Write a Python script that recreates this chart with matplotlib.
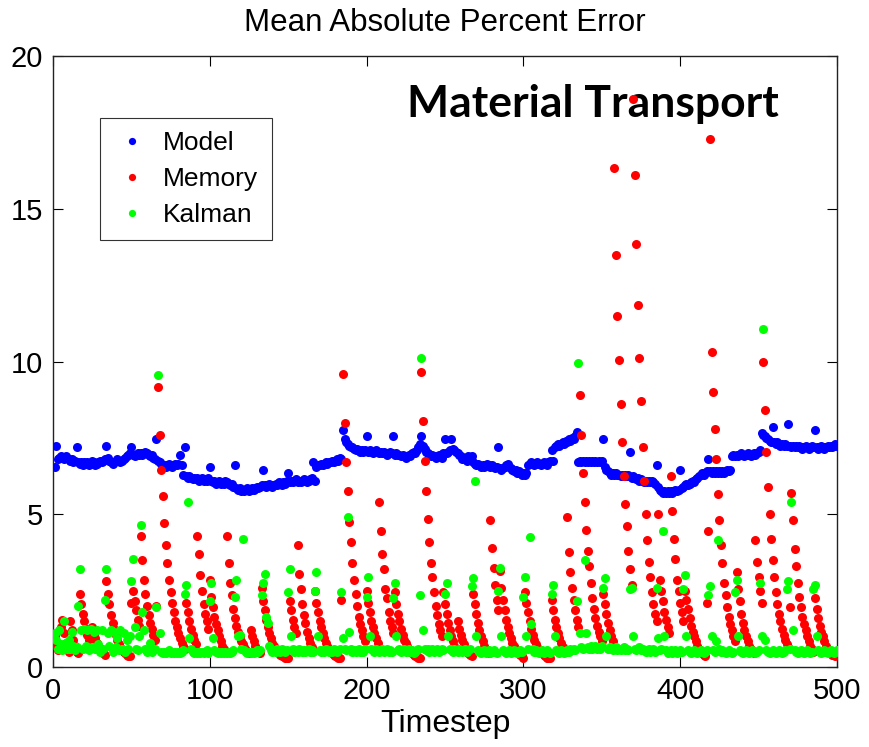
import numpy as np
import matplotlib
matplotlib.use("Agg")
import matplotlib.pyplot as plt

# ---------------- data (timesteps 1..500) ----------------
model = [
    6.55, 7.25, 6.8, 6.85, 6.9, 6.85, 6.8, 6.9, 6.85, 6.8,
    6.75, 6.8, 6.7, 6.75, 7.2, 6.7, 6.65, 6.7, 6.6, 6.7,
    6.65, 6.7, 6.6, 6.65, 6.75, 6.7, 6.6, 6.65, 6.7, 6.75,
    6.7, 6.75, 6.8, 7.25, 6.85, 6.75, 6.7, 6.65, 6.7, 6.75,
    6.8, 6.75, 6.7, 6.75, 6.8, 6.85, 6.9, 6.95, 7.0, 7.2,
    6.95, 6.9, 6.95, 7.0, 6.95, 7.0, 6.95, 7.0, 7.05, 7.0,
    6.95, 6.9, 6.95, 6.85, 6.8, 7.45, 6.75, 6.7, 6.65, 6.6,
    6.6, 6.55, 6.6, 6.65, 6.6, 6.55, 6.6, 6.65, 6.6, 6.65,
    6.95, 6.6, 6.3, 7.2, 6.25, 6.2, 6.25, 6.2, 6.15, 6.2,
    6.15, 6.2, 6.1, 6.15, 6.2, 6.1, 6.15, 6.1, 6.2, 6.55,
    6.1, 6.05, 6.1, 6.0, 6.05, 6.1, 6.0, 6.05, 6.0, 6.1,
    6.05, 6.0, 5.95, 6.0, 5.9, 6.6, 5.85, 5.8, 5.85, 5.75,
    5.8, 5.75, 5.8, 5.85, 5.75, 5.8, 5.85, 5.8, 5.85, 5.9,
    5.85, 5.9, 5.95, 6.45, 5.95, 5.9, 5.95, 6.0, 5.95, 5.9,
    5.95, 6.0, 5.95, 6.05, 6.0, 5.95, 6.05, 6.0, 6.1, 6.35,
    6.05, 6.1, 6.05, 6.1, 6.15, 6.05, 6.1, 6.05, 6.1, 6.15,
    6.1, 6.05, 6.1, 6.15, 6.2, 6.7, 6.1, 6.55, 6.6, 6.6,
    6.65, 6.6, 6.65, 6.7, 6.65, 6.7, 6.7, 6.75, 6.7, 6.75,
    6.8, 6.75, 6.85, 6.8, 7.75, 7.45, 7.35, 7.3, 7.25, 7.2,
    7.2, 7.15, 7.1, 7.15, 7.1, 7.05, 7.1, 7.05, 7.1, 7.55,
    7.05, 7.1, 7.05, 7.0, 7.05, 7.1, 7.05, 7.0, 7.05, 7.0,
    7.05, 7.0, 6.95, 7.0, 7.05, 7.0, 7.55, 6.95, 7.0, 6.95,
    6.95, 6.9, 6.95, 6.9, 6.85, 6.9, 6.95, 6.9, 7.0, 7.05,
    7.0, 7.1, 7.2, 7.3, 7.55, 7.25, 7.15, 7.05, 7.0, 6.95,
    6.9, 6.95, 6.9, 6.85, 6.9, 6.95, 6.9, 6.85, 7.0, 7.45,
    7.0, 7.05, 7.1, 7.45, 7.15, 7.1, 7.05, 7.0, 6.95, 6.9,
    6.8, 6.85, 6.8, 6.75, 6.9, 6.85, 6.9, 6.7, 6.65, 6.6,
    6.65, 6.6, 6.55, 6.6, 6.55, 6.6, 6.65, 6.6, 6.55, 6.6,
    6.55, 6.5, 6.55, 7.2, 6.5, 6.45, 6.5, 6.55, 6.6, 6.65,
    6.55, 6.5, 6.45, 6.4, 6.45, 6.35, 6.4, 6.35, 6.3, 6.35,
    6.3, 6.35, 6.6, 6.65, 6.7, 6.65, 6.6, 6.65, 6.7, 6.65,
    6.6, 6.65, 6.7, 6.65, 6.6, 6.7, 6.75, 7.1, 6.75, 7.2,
    7.25, 7.3, 7.25, 7.3, 7.35, 7.3, 7.4, 7.35, 7.45, 7.4,
    7.5, 7.45, 7.55, 7.7, 6.7, 6.75, 6.7, 6.75, 6.7, 6.75,
    6.7, 6.75, 6.7, 6.75, 6.7, 6.75, 6.7, 6.75, 6.7, 6.75,
    7.45, 6.55, 6.45, 6.4, 6.35, 6.3, 6.35, 6.3, 6.35, 6.3,
    6.3, 6.25, 6.3, 6.25, 6.3, 6.25, 6.3, 7.05, 6.2, 6.25,
    6.2, 6.15, 6.2, 6.1, 6.15, 6.1, 6.05, 6.1, 6.05, 6.1,
    6.05, 6.1, 6.05, 6.0, 6.6, 5.9, 5.8, 5.75, 5.7, 5.75,
    5.7, 5.75, 5.7, 5.75, 5.7, 5.75, 5.8, 5.75, 5.8, 6.45,
    5.85, 5.9, 5.95, 6.0, 5.95, 6.0, 6.05, 6.1, 6.05, 6.15,
    6.2, 6.25, 6.3, 6.35, 6.3, 6.35, 6.4, 6.8, 6.4, 6.35,
    6.4, 6.35, 6.4, 6.35, 6.4, 6.35, 6.4, 6.35, 6.4, 6.45,
    6.4, 6.45, 6.9, 6.95, 6.9, 6.95, 6.9, 6.95, 7.0, 6.95,
    6.9, 6.95, 7.0, 6.95, 6.9, 6.95, 7.0, 6.95, 7.0, 7.05,
    7.1, 7.65, 7.6, 7.55, 7.5, 7.45, 7.4, 7.35, 7.85, 7.35,
    7.3, 7.35, 7.3, 7.25, 7.3, 7.25, 7.3, 7.25, 7.95, 7.25,
    7.2, 7.25, 7.2, 7.25, 7.2, 7.25, 7.2, 7.15, 7.2, 7.25,
    7.2, 7.15, 7.2, 7.25, 7.2, 7.75, 7.2, 7.15, 7.2, 7.25,
    7.2, 7.15, 7.2, 7.25, 7.2, 7.25, 7.2, 7.25, 7.3, 7.25,
]

memory = [
    1.0, 0.7, 0.55, 0.65, 1.3, 1.55, 1.1, 0.8, 0.6, 0.5, 1.5, 1.2, 0.9, 0.7, 0.5, 0.45,
    2.4, 2.05, 1.75, 1.5, 1.25, 1.05, 0.9, 0.75, 1.3, 1.1, 0.95, 0.8, 0.7, 0.6, 0.5, 0.45, 0.4,
    2.8, 2.4, 2.05, 1.7, 1.45, 1.25, 1.05, 0.9, 0.75, 0.65, 0.55, 0.5, 0.45, 0.4, 0.35, 0.35,
    2.1, 2.5, 2.15, 1.85, 1.55, 1.35,
    4.3, 3.5, 2.85, 2.4, 2.0, 1.7, 1.45, 1.25, 1.05, 0.9, 2.0,
    9.15, 7.6, 6.45, 5.6, 4.7, 4.0, 3.4, 2.85, 2.45, 2.1, 1.8, 1.5, 1.3, 1.1, 0.95, 0.8, 0.7, 0.6,
    2.1, 1.8, 1.5, 1.25, 1.05, 0.9, 0.75,
    4.3, 3.7, 3.0, 2.5, 2.05, 1.75, 1.5, 1.25,
    2.85, 2.3, 1.95, 1.65, 1.4, 1.2, 1.0, 0.85, 0.7, 0.6, 0.5,
    4.3, 3.4, 2.75, 2.35, 1.9, 1.6, 1.35, 1.15, 1.0, 0.85, 0.75, 0.65, 0.55, 0.5, 0.45,
    1.2, 1.0, 0.85, 0.7, 0.6, 0.5, 0.45,
    2.6, 2.15, 1.85, 1.55, 1.3, 1.1, 0.95, 0.8, 0.7, 0.6, 0.5, 0.45, 0.4, 0.35, 0.35, 0.3, 0.3, 0.3,
    2.15, 1.85, 1.55, 1.3, 1.1,
    4.0, 3.05, 2.55, 2.05, 1.7, 1.45, 1.15, 0.95, 0.8, 0.65, 0.55,
    2.5, 2.1, 1.8, 1.5, 1.3, 1.1, 0.95, 0.8, 0.7, 0.6, 0.5, 0.45, 0.4, 0.35, 0.35, 0.3, 0.3,
    2.2,
    9.6, 8.0, 6.7, 5.75, 4.75, 4.1, 3.4, 2.85, 2.4, 2.0, 1.65, 1.4, 1.2, 1.0, 0.85,
    2.5, 2.1, 1.8, 1.5, 1.3, 1.1, 0.95, 0.8,
    5.4, 4.45, 3.7, 3.2, 2.55, 2.25, 1.8, 1.5, 1.3, 1.1,
    2.45, 2.05, 1.75, 1.5, 1.25, 1.05, 0.9, 0.8, 0.7, 0.6, 0.5, 0.45, 0.4, 0.35, 0.35, 0.3, 0.3,
    9.65, 8.05, 6.75, 5.75, 4.85, 4.1, 3.4, 2.95, 2.45, 2.0, 1.7, 1.4, 1.2, 1.0,
    2.45, 2.05, 1.75, 1.45, 1.2, 1.0, 0.85, 0.7, 0.6,
    1.5, 1.25, 1.05, 0.9, 0.75, 0.6, 0.5, 0.45, 0.4, 0.35,
    2.4, 2.05, 1.75, 1.45, 1.2, 1.0, 0.85, 0.7, 0.6, 0.5, 0.45,
    4.8, 3.9, 3.25, 2.7, 2.2, 1.85,
    3.15, 2.6, 2.2, 1.85, 1.55, 1.3, 1.1, 0.95, 0.8, 0.7, 0.6, 0.5, 0.45, 0.4, 0.35, 0.3,
    2.45, 2.1, 1.8, 1.5, 1.25, 1.05, 0.9, 0.75, 0.65, 0.55, 0.5, 0.45, 0.4, 0.35, 0.3, 0.3, 0.3,
    2.2, 1.85, 1.55, 1.3, 1.1, 0.95, 0.8, 0.65, 0.55, 0.5,
    4.9, 3.75, 3.1, 2.6, 2.2, 1.85, 1.55, 1.3,
    8.9, 7.6, 6.35, 5.4, 4.5, 3.8, 3.3, 2.75, 2.25, 1.9, 1.6, 1.35, 1.15, 1.0, 0.85,
    2.4, 2.05, 1.75, 1.45, 1.2, 1.0, 0.85,
    16.35, 13.5, 11.5, 10.05, 8.6, 7.35, 6.25, 5.35, 4.6, 3.8, 3.2, 2.7,
    18.6, 16.1, 13.85, 11.85, 10.1, 8.7, 7.2, 6.1, 5.0, 4.15, 3.45, 2.95, 2.45, 2.05, 1.75, 1.5,
    5.0, 2.85, 2.5, 2.15, 1.8, 1.55, 1.3, 1.1,
    6.25, 5.1, 4.2, 3.55, 2.85, 2.5, 2.1, 1.8, 1.5,
    2.5, 2.2, 1.9, 1.6, 1.35, 1.15, 1.0, 0.85, 0.7, 0.6, 0.5, 0.45, 0.4, 0.35,
    2.1, 4.45,
    17.3, 10.3, 9.0, 7.8, 6.8, 5.65, 4.8, 4.0, 3.4, 2.75, 2.35, 1.95, 1.65, 1.4, 1.2, 1.0, 0.85,
    3.1, 2.55, 2.15, 1.75, 1.45, 1.2, 1.0, 0.85, 0.7, 0.6, 0.5, 0.45,
    4.15, 3.45, 2.95, 2.5, 2.1,
    10.0, 8.4, 7.05, 5.9, 5.0, 4.2, 3.5, 2.95, 2.45, 2.05, 1.75, 1.5, 1.25, 1.05, 0.9, 0.75, 0.65, 1.95,
    5.7, 4.8, 3.85, 3.3, 2.75, 2.3, 1.95, 1.65, 1.4, 1.2, 1.0, 0.85, 0.7, 0.6, 0.5,
    2.25, 1.9, 1.6, 1.35, 1.15, 1.0, 0.85, 0.7, 0.6, 0.5, 0.45, 0.4, 0.4, 0.35, 0.5,
]

kalman = [
    1.1, 0.9, 0.6, 1.2, 0.75, 0.55, 1.5, 0.8, 0.6, 0.9,
    0.6, 1.15, 0.7, 0.55, 0.65, 2.0, 3.2, 1.2, 0.6, 1.25,
    0.7, 1.2, 0.55, 1.25, 0.65, 1.15, 0.6, 1.2, 0.75, 0.5,
    1.2, 0.6, 2.2, 3.2, 1.1, 0.7, 1.2, 0.5, 1.15, 0.65,
    0.95, 0.55, 1.2, 0.6, 1.1, 0.5, 0.9, 0.6, 1.0, 2.8,
    3.55, 1.3, 0.6, 0.55, 1.0, 4.65, 1.8, 1.2, 0.6, 0.5,
    0.55, 0.8, 0.5, 0.55, 0.6, 1.95, 9.55, 1.1, 0.5, 0.45,
    0.5, 0.45, 0.5, 0.55, 0.45, 0.5, 0.45, 0.5, 0.45, 0.5,
    0.45, 0.5, 0.55, 2.4, 2.7, 5.4, 0.95, 0.6, 0.5, 0.45,
    0.5, 0.45, 0.5, 0.45, 0.5, 0.45, 0.5, 0.55, 0.45, 2.15,
    2.75, 0.95, 0.55, 0.5, 0.45, 0.5, 0.45, 0.5, 0.45, 0.5,
    0.45, 0.5, 0.45, 0.5, 0.55, 2.3, 2.85, 1.0, 1.05, 0.6,
    4.2, 0.55, 0.5, 0.45, 0.5, 0.45, 0.5, 0.45, 0.5, 0.55,
    0.5, 0.55, 2.35, 2.75, 3.05, 1.65, 1.45, 0.7, 0.55, 0.5,
    0.55, 0.5, 0.6, 0.55, 0.5, 0.6, 0.55, 0.5, 0.55, 2.45,
    3.2, 1.0, 0.6, 0.5, 0.55, 0.5, 0.6, 0.55, 0.5, 0.55,
    0.5, 0.55, 0.6, 0.5, 0.55, 0.5, 2.5, 3.1, 1.0, 0.55,
    0.5, 0.55, 0.5, 0.6, 0.55, 0.5, 0.55, 0.5, 0.6, 0.55,
    0.5, 0.55, 0.6, 2.45, 0.95, 0.6, 0.55, 4.9, 1.15, 0.6,
    0.5, 0.55, 0.5, 0.55, 0.6, 0.5, 0.55, 0.5, 0.6, 2.3,
    2.95, 1.0, 0.6, 0.55, 0.5, 0.6, 0.55, 0.5, 0.55, 0.6,
    0.5, 0.55, 0.6, 0.5, 0.55, 0.5, 2.25, 2.75, 1.0, 0.55,
    0.6, 0.5, 0.55, 0.6, 0.5, 0.55, 0.6, 0.5, 0.55, 0.45,
    0.5, 0.55, 0.6, 2.35, 10.1, 1.2, 0.6, 0.55, 0.6, 0.5,
    0.55, 0.6, 0.5, 0.55, 0.6, 0.5, 0.55, 0.6, 0.55, 2.4,
    2.75, 1.0, 0.6, 0.55, 0.5, 0.6, 0.55, 0.5, 0.6, 0.55,
    0.5, 0.55, 0.6, 0.5, 0.55, 0.6, 2.65, 2.9, 6.1, 1.0,
    0.55, 0.5, 0.45, 0.5, 0.55, 0.45, 0.5, 0.55, 0.45, 0.5,
    0.55, 0.5, 0.45, 2.5, 3.25, 1.0, 0.55, 0.5, 0.45, 0.5,
    0.55, 0.45, 0.5, 0.55, 0.5, 0.45, 0.5, 0.55, 0.5, 2.3,
    2.95, 1.0, 0.6, 4.25, 1.4, 0.6, 0.5, 0.55, 0.5, 0.45,
    0.5, 0.55, 0.45, 0.5, 0.55, 0.5, 0.45, 2.4, 2.7, 1.0,
    0.55, 0.5, 0.45, 0.55, 0.5, 0.45, 0.5, 0.55, 0.5, 0.6,
    0.55, 0.6, 0.55, 2.15, 9.95, 1.1, 0.65, 0.6, 3.5, 1.1,
    0.65, 0.6, 0.7, 0.6, 0.65, 0.7, 0.6, 0.65, 0.6, 0.7,
    2.6, 2.9, 1.0, 0.6, 0.65, 0.6, 0.55, 0.6, 0.65, 0.55,
    0.6, 0.55, 0.6, 0.65, 0.55, 0.6, 0.55, 2.55, 2.6, 1.0,
    0.6, 0.55, 0.6, 0.65, 0.55, 0.6, 0.55, 0.5, 0.55, 0.6,
    0.5, 0.55, 0.6, 0.5, 2.6, 0.95, 0.55, 0.6, 4.45, 1.0,
    0.55, 0.45, 0.5, 0.55, 0.45, 0.5, 0.55, 0.45, 0.5, 0.55,
    0.5, 2.55, 3.0, 1.0, 0.55, 0.5, 0.45, 0.5, 0.55, 0.5,
    0.45, 0.5, 0.55, 0.5, 0.45, 0.5, 0.55, 2.35, 2.65, 1.0,
    0.55, 0.5, 0.85, 4.15, 0.6, 0.5, 0.55, 0.5, 0.45, 0.5,
    0.55, 0.5, 0.45, 0.5, 2.45, 2.85, 1.0, 0.55, 0.5, 0.45,
    0.5, 0.55, 0.5, 0.45, 0.5, 0.55, 0.5, 0.45, 0.5, 0.55,
    2.75, 1.0, 11.05, 0.9, 0.55, 0.5, 0.45, 0.5, 0.55, 0.5,
    0.45, 0.5, 0.55, 0.5, 0.45, 0.5, 0.55, 2.55, 2.8, 0.6,
    5.4, 1.2, 0.55, 0.5, 0.45, 0.5, 0.55, 0.5, 0.45, 0.5,
    0.55, 0.5, 0.45, 0.5, 2.55, 2.7, 1.0, 0.55, 0.5, 0.45,
    0.5, 0.55, 0.5, 0.45, 0.5, 0.55, 0.5, 0.45, 0.5, 0.55,
]

series_labels = ["Model", "Memory", "Kalman"]
x_ticks = [0, 100, 200, 300, 400, 500]
y_ticks = [0, 5, 10, 15, 20]

# ---------------- figure ----------------
plt.rcParams["font.family"] = ["Liberation Sans", "DejaVu Sans"]

fig = plt.figure(figsize=(8.7, 7.47), dpi=100)
ax = fig.add_axes([0.0609, 0.1071, 0.9011, 0.8179])

ms = 6.5
for vals, col, lab in [(model, "#0000ff", series_labels[0]),
                       (memory, "#ff0000", series_labels[1]),
                       (kalman, "#00ff00", series_labels[2])]:
    t = np.arange(1, len(vals) + 1)
    ax.plot(t, vals, linestyle="none", marker="o", ms=ms, mew=0,
            color=col, label=lab, zorder=3)

ax.set_xlim(0, 500)
ax.set_ylim(0, 20)
ax.set_xticks(x_ticks)
ax.set_yticks(y_ticks)
ax.tick_params(direction="in", top=True, right=True, length=7,
               width=0.8, labelsize=21, pad=7, colors="black")
for s in ax.spines.values():
    s.set_linewidth(1.0)
    s.set_color("#222222")

ax.set_title("Mean Absolute Percent Error", fontsize=22.5, pad=18)
ax.set_xlabel("Timestep", fontsize=23, labelpad=3)

ax.text(226, 18.0, "Material Transport", fontsize=32, fontweight="bold",
        family=["Lato", "DejaVu Sans"], ha="left", va="baseline", zorder=1)

leg = ax.legend(loc="upper left", bbox_to_anchor=(0.06, 0.8985),
                borderaxespad=0, fontsize=19, frameon=True, fancybox=False,
                edgecolor="black", handlelength=1.4, handletextpad=0.5,
                borderpad=0.5, labelspacing=0.45, markerscale=0.8)
leg.get_frame().set_linewidth(0.8)

fig.savefig("out.png", dpi=100)
